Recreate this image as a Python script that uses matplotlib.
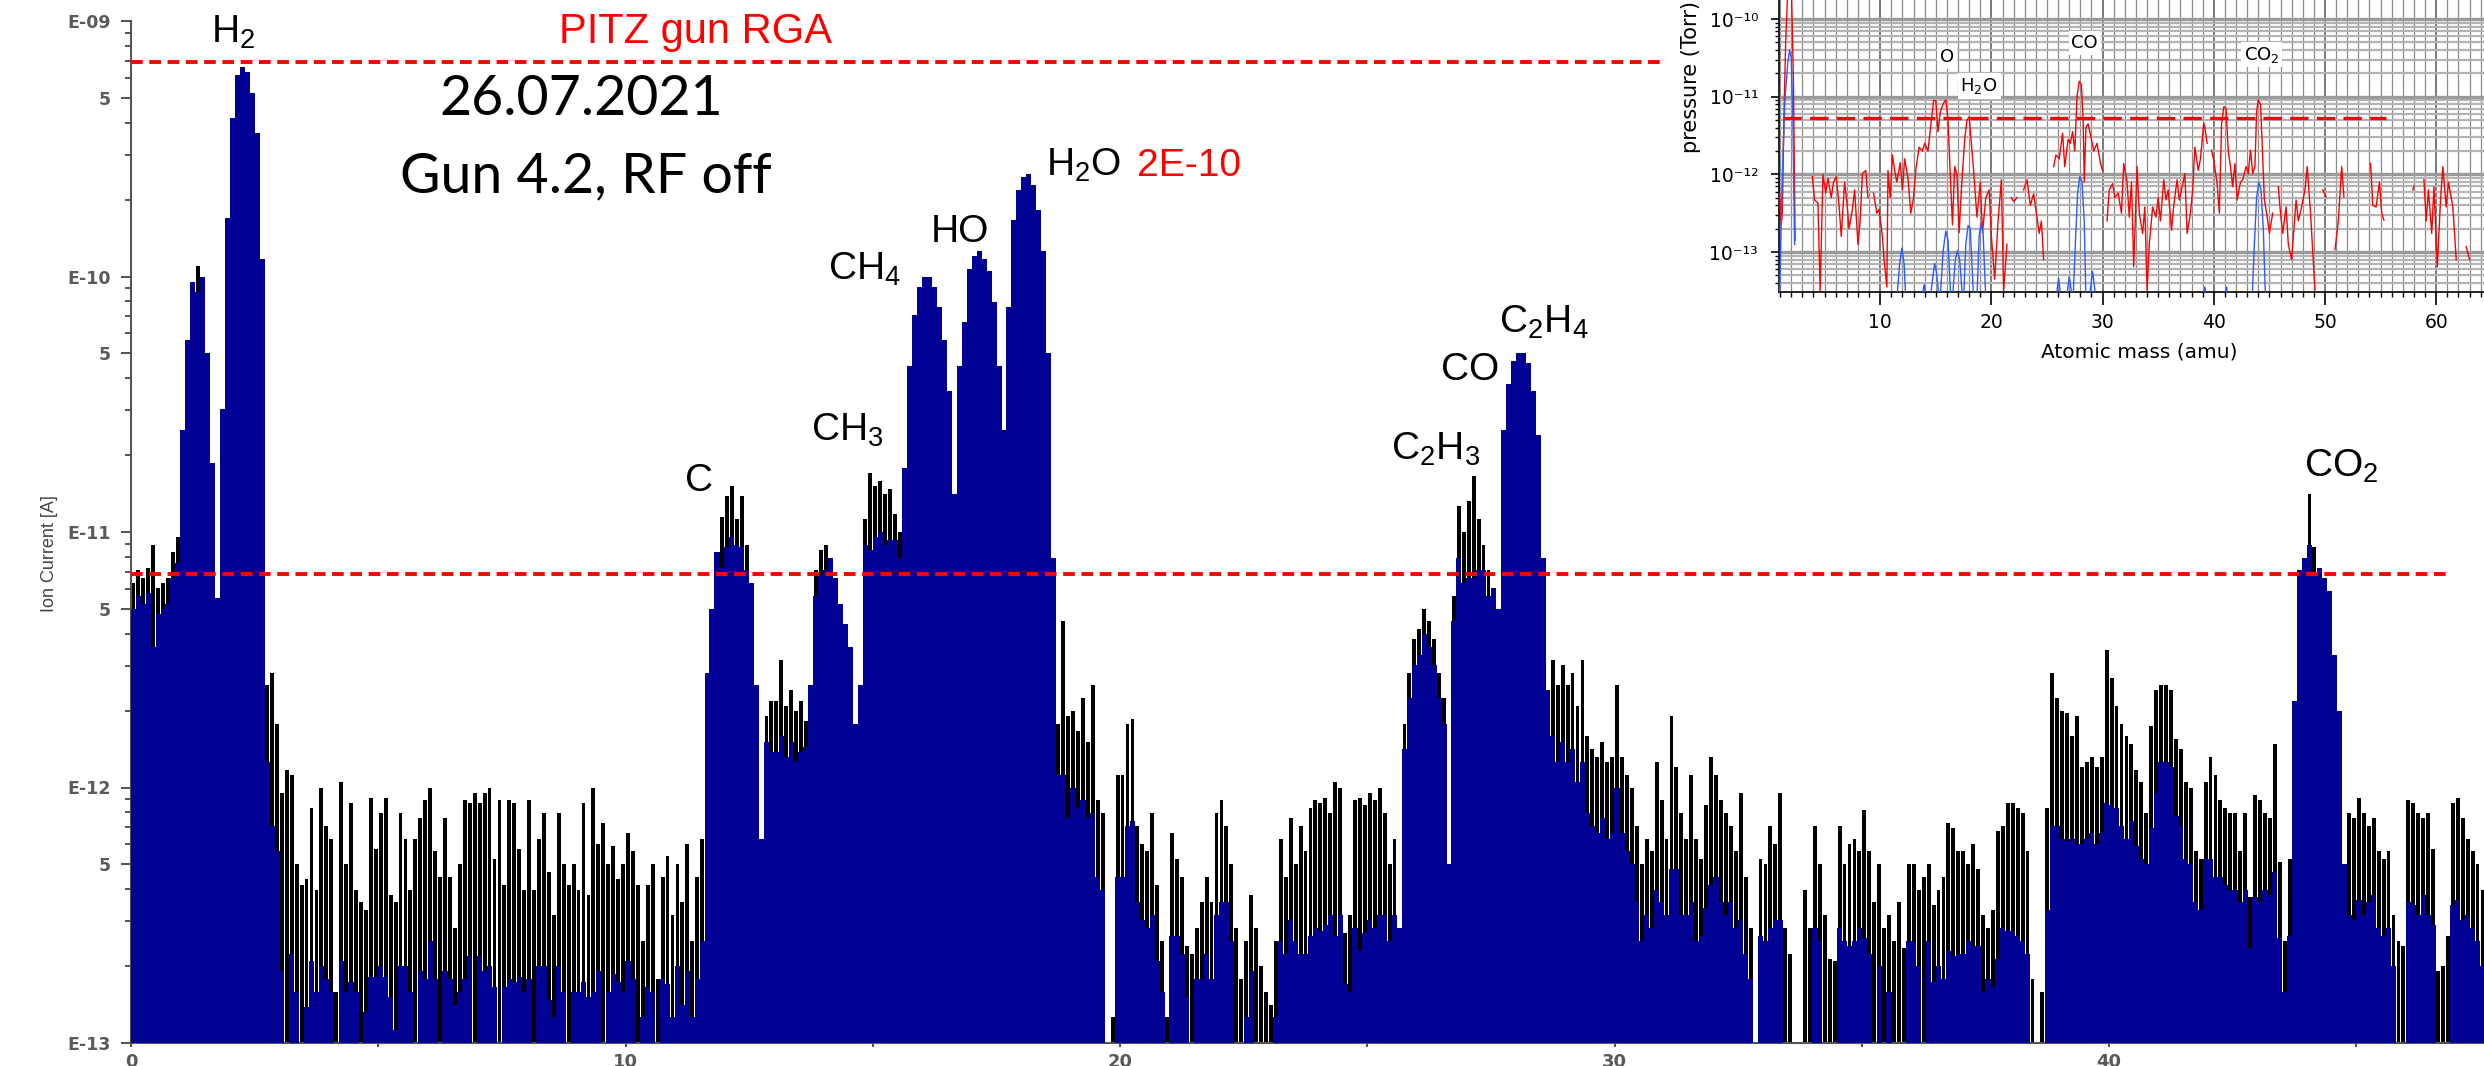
import numpy as np
import matplotlib
matplotlib.use('Agg')
import matplotlib.pyplot as plt
from matplotlib import font_manager
from matplotlib.ticker import MultipleLocator, NullFormatter, FixedLocator

# ---------------- main RGA spectrum (log10 of ion current [A]) ----------------
# one row per amu, 10 bins of 0.1 amu each ; top = highest value in the bin
ion_top = [
    [-11.20, -11.15, -11.18, -11.14, -11.05, -11.22, -11.20, -11.18, -11.08, -11.02],
    [-10.60, -10.25, -10.02, -9.96, -10.00, -10.30, -10.73, -11.26, -10.52, -9.77],
    [-9.38, -9.21, -9.18, -9.20, -9.28, -9.44, -9.93, -11.60, -11.55, -11.75],
    [-12.02, -11.93, -11.95, -12.30, -12.38, -12.36, -12.08, -12.40, -12.00, -12.15],
    [-12.20, -12.80, -11.98, -12.30, -12.06, -12.40, -12.45, -12.48, -12.04, -12.24],
    [-12.10, -12.04, -12.42, -12.45, -12.10, -12.20, -12.40, -12.20, -12.12, -12.05],
    [-12.00, -12.25, -12.35, -12.12, -12.35, -12.55, -12.30, -12.05, -12.06, -12.02],
    [-12.06, -12.02, -12.00, -12.28, -12.05, -12.38, -12.05, -12.06, -12.24, -12.40],
    [-12.05, -12.40, -12.20, -12.10, -12.33, -12.50, -12.10, -12.30, -12.38, -12.30],
    [-12.40, -12.06, -12.42, -12.00, -12.22, -12.14, -12.30, -12.23, -12.36, -12.30],
    [-12.18, -12.25, -12.38, -12.60, -12.38, -12.30, -12.75, -12.35, -12.27, -12.50],
    [-12.30, -12.45, -12.22, -12.60, -12.35, -12.20, -11.55, -11.30, -11.08, -10.94],
    [-10.86, -10.82, -10.95, -10.86, -11.05, -11.20, -11.60, -12.20, -11.72, -11.66],
    [-11.66, -11.50, -11.68, -11.62, -11.70, -11.66, -11.74, -11.60, -11.15, -11.07],
    [-11.05, -11.10, -11.18, -11.28, -11.36, -11.45, -11.75, -11.60, -10.95, -10.77],
    [-10.82, -10.80, -10.85, -10.83, -10.93, -11.00, -10.75, -10.35, -10.15, -10.04],
    [-10.00, -10.00, -10.04, -10.12, -10.25, -10.45, -10.85, -10.35, -10.18, -9.97],
    [-9.92, -9.90, -9.93, -9.98, -10.10, -10.35, -10.60, -10.12, -9.78, -9.66],
    [-9.61, -9.60, -9.64, -9.74, -9.90, -10.30, -11.10, -11.75, -11.35, -11.72],
    [-11.70, -11.78, -11.65, -11.82, -11.60, -12.05, -12.10, -14.00, -12.90, -11.95],
    [-11.95, -11.75, -11.73, -12.15, -12.22, -12.25, -12.10, -12.38, -12.60, -12.90],
    [-12.18, -12.28, -12.35, -12.62, -12.65, -12.55, -12.45, -12.35, -12.45, -12.10],
    [-12.05, -12.15, -12.30, -12.55, -12.75, -12.60, -12.42, -12.55, -12.70, -12.80],
    [-12.85, -12.60, -12.20, -12.35, -12.12, -12.30, -12.15, -12.25, -12.08, -12.05],
    [-12.06, -12.04, -12.10, -11.98, -12.00, -12.57, -12.50, -12.05, -12.04, -12.07],
    [-12.02, -12.05, -12.00, -12.10, -12.30, -12.20, -12.55, -11.75, -11.55, -11.42],
    [-11.38, -11.30, -11.35, -11.42, -11.55, -11.65, -12.30, -11.25, -10.90, -11.00],
    [-10.88, -10.78, -10.95, -11.05, -11.15, -11.22, -11.30, -10.60, -10.42, -10.33],
    [-10.30, -10.30, -10.34, -10.45, -10.62, -11.10, -11.62, -11.50, -11.60, -11.52],
    [-11.60, -11.55, -11.68, -11.50, -11.80, -11.85, -11.88, -11.82, -11.90, -11.88],
    [-11.60, -11.88, -11.95, -12.00, -12.15, -12.30, -12.20, -12.25, -11.90, -12.05],
    [-12.20, -11.72, -11.92, -12.10, -12.20, -11.95, -12.20, -12.28, -12.07, -11.88],
    [-11.95, -12.05, -12.10, -12.15, -12.25, -12.02, -12.35, -12.55, -14.00, -12.28],
    [-12.30, -12.15, -12.22, -12.02, -12.55, -12.65, -14.00, -14.00, -12.40, -12.55],
    [-12.15, -12.30, -12.50, -12.67, -12.68, -12.15, -12.30, -12.22, -12.20, -12.25],
    [-12.09, -12.25, -12.45, -12.30, -12.55, -12.50, -12.60, -12.45, -12.63, -12.30],
    [-12.30, -12.40, -12.35, -12.30, -12.46, -12.40, -12.35, -12.14, -12.16, -12.25],
    [-12.25, -12.30, -12.22, -12.32, -12.50, -12.55, -12.48, -12.17, -12.15, -12.06],
    [-12.06, -12.08, -12.10, -12.25, -12.75, -14.00, -12.80, -12.08, -11.55, -11.65],
    [-11.70, -11.71, -11.80, -11.72, -11.92, -11.90, -11.88, -11.92, -11.88, -11.46],
    [-11.57, -11.68, -11.75, -11.80, -11.83, -11.93, -11.98, -12.10, -11.76, -11.62],
    [-11.60, -11.60, -11.62, -11.81, -11.85, -11.98, -12.00, -12.25, -12.28, -11.98],
    [-11.88, -11.95, -12.05, -12.08, -12.10, -12.10, -12.25, -12.10, -12.43, -12.03],
    [-12.05, -12.10, -12.12, -11.83, -12.29, -12.60, -12.28, -11.66, -11.15, -11.10],
    [-10.85, -11.06, -11.14, -11.18, -11.23, -11.48, -11.70, -12.30, -12.10, -12.12],
    [-12.04, -12.10, -12.15, -12.12, -12.25, -12.28, -12.25, -12.50, -12.60, -12.62],
    [-12.05, -12.06, -12.10, -12.12, -12.10, -12.24, -12.72, -12.70, -12.58, -12.06],
    [-12.04, -12.12, -12.20, -12.25, -12.30, -12.40],
]
# black "hair" above the navy fill, tenths of a decade (9 = no navy at all)
ion_hair = [
    [1, 1, 1, 1, 4, 1, 1, 1, 1, 1],
    [0, 0, 0, 1, 0, 0, 0, 0, 0, 0],
    [0, 0, 0, 0, 0, 0, 0, 3, 6, 5],
    [7, 9, 7, 5, 9, 5, 6, 4, 7, 6],
    [6, 3, 7, 5, 7, 4, 9, 4, 7, 5],
    [6, 7, 4, 5, 6, 5, 4, 9, 6, 7],
    [6, 5, 9, 6, 4, 3, 5, 7, 6, 9],
    [6, 7, 7, 5, 9, 4, 7, 7, 5, 4],
    [7, 9, 5, 6, 5, 4, 6, 5, 9, 5],
    [4, 7, 4, 8, 5, 9, 5, 5, 4, 5],
    [5, 5, 9, 3, 4, 5, 9, 4, 5, 4],
    [4, 4, 5, 3, 4, 4, 0, 0, 0, 2],
    [2, 2, 1, 2, 1, 0, 0, 0, 1, 2],
    [2, 3, 2, 2, 2, 2, 1, 0, 1, 1],
    [1, 0, 0, 0, 0, 0, 0, 0, 1, 3],
    [2, 2, 2, 2, 1, 1, 0, 0, 0, 0],
    [0, 0, 0, 0, 0, 0, 0, 0, 0, 0],
    [0, 0, 0, 0, 0, 0, 0, 0, 0, 0],
    [0, 0, 0, 0, 0, 0, 0, 2, 6, 4],
    [3, 3, 4, 3, 5, 3, 3, 0, 9, 4],
    [4, 4, 4, 3, 3, 3, 4, 3, 2, 9],
    [4, 3, 3, 2, 9, 2, 3, 3, 3, 4],
    [4, 3, 3, 9, 9, 3, 3, 9, 3, 9],
    [9, 3, 4, 3, 4, 3, 5, 4, 5, 5],
    [5, 5, 4, 6, 5, 2, 3, 5, 6, 5],
    [5, 5, 5, 4, 3, 3, 0, 1, 1, 1],
    [1, 1, 1, 1, 1, 1, 0, 1, 2, 2],
    [3, 4, 2, 1, 1, 0, 0, 0, 0, 0],
    [0, 0, 0, 0, 0, 0, 0, 3, 3, 3],
    [3, 3, 3, 4, 3, 3, 3, 3, 3, 3],
    [4, 3, 3, 3, 3, 3, 3, 3, 5, 4],
    [3, 6, 4, 4, 3, 5, 4, 3, 4, 5],
    [4, 4, 4, 3, 3, 5, 3, 2, 0, 3],
    [3, 4, 3, 5, 9, 9, 0, 0, 9, 9],
    [4, 3, 9, 9, 9, 4, 3, 4, 4, 3],
    [5, 4, 9, 4, 9, 3, 9, 9, 9, 3],
    [3, 3, 9, 3, 3, 3, 4, 5, 5, 4],
    [4, 3, 4, 3, 3, 2, 3, 5, 4, 5],
    [5, 5, 5, 4, 9, 0, 9, 4, 6, 5],
    [5, 5, 4, 5, 3, 3, 3, 3, 3, 6],
    [5, 4, 4, 4, 3, 3, 3, 2, 4, 4],
    [3, 3, 3, 3, 3, 3, 3, 2, 2, 3],
    [4, 4, 3, 3, 3, 3, 2, 3, 2, 4],
    [4, 3, 3, 5, 3, 2, 3, 0, 0, 0],
    [2, 1, 0, 0, 0, 0, 0, 0, 4, 4],
    [4, 4, 3, 3, 3, 3, 3, 2, 9, 9],
    [4, 4, 4, 3, 4, 3, 9, 9, 9, 4],
    [4, 4, 3, 3, 3, 3],
]
bin_width = 0.1

# reference levels (log10 A)
level_high = -9.16
level_low = -11.164

# peak labels: (text, amu, log10 baseline)
peak_labels = [
    ('H$_2$', 1.62, -9.086),
    ('C', 11.20, -10.84),
    ('CH$_3$', 13.75, -10.644),
    ('CH$_4$', 14.10, -10.014),
    ('HO', 16.18, -9.865),
    ('H$_2$O', 18.50, -9.607),
    ('C$_2$H$_3$', 25.48, -10.718),
    ('CO', 26.49, -10.405),
    ('C$_2$H$_4$', 27.66, -10.221),
    ('CO$_2$', 43.94, -10.785),
]
y_major_labels = ['E-13', 'E-12', 'E-11', 'E-10', 'E-09']
x_major = [0, 10, 20, 30, 40]

# ---------------- inset (pressure in Torr, log10) ----------------
red_points = [
    (0.95, -12.24), (1.1, -12.65), (1.2, -12.5), (1.35, -11.2), (1.5, -10.3), (1.7, -9.6), (2.0, -9.5),
    (2.2, -10.8), (2.35, -12.85), None,
    (3.9, -12.03), (4.1, -12.33), (4.4, -12.37), (4.6, -13.5), (4.85, -12.0), (5.1, -12.24), (5.3, -12.05),
    (5.6, -12.3), (5.8, -12.1), (6.05, -12.03), (6.3, -12.4), (6.5, -12.8), (6.8, -12.1), (7.0, -12.35),
    (7.2, -12.7), (7.5, -12.45), (7.7, -12.2), (8.0, -12.9), (8.2, -12.6), (8.4, -11.99), (8.7, -11.95),
    (8.9, -12.3), None,
    (9.4, -12.24), (9.7, -12.5), (9.9, -12.45), (10.2, -12.8), (10.35, -13.1), (10.6, -13.45), (10.7, -11.95),
    (10.9, -12.3), (11.1, -11.75), (11.3, -11.95), (11.5, -12.1), (11.8, -11.85), (12.0, -12.2), (12.2, -11.8),
    (12.5, -12.05), (12.75, -12.5), (13.0, -12.3), (13.2, -11.94), (13.5, -11.65), (13.8, -11.7), (14.0, -11.6),
    (14.3, -11.7), (14.6, -11.3), (14.8, -11.05), (15.0, -11.05), (15.2, -11.45), (15.4, -11.2), (15.7, -11.08),
    (15.9, -11.04), (16.1, -11.3), (16.3, -12.0), (16.5, -12.65), (16.7, -11.9), (16.9, -12.0), (17.1, -12.75),
    (17.3, -12.2), (17.6, -11.55), (17.8, -11.3), (18.0, -11.26), (18.2, -11.6), (18.4, -11.95), (18.7, -12.55),
    (19.0, -12.1), (19.2, -12.75), (19.5, -12.3), (19.8, -12.2), (20.0, -12.8), (20.3, -13.35), (20.6, -12.6),
    (20.9, -12.07), (21.1, -13.5), (21.4, -12.9), None,
    (21.8, -12.3), (22.0, -12.35), (22.3, -12.3), None,
    (22.9, -12.2), (23.2, -12.07), (23.5, -12.4), (23.8, -12.25), (24.0, -12.45), (24.3, -12.76), (24.5, -12.6),
    (24.7, -13.1), None,
    (25.6, -11.9), (25.8, -11.75), (26.1, -11.8), (26.4, -11.47), (26.6, -11.9), (26.9, -11.55), (27.1, -11.6),
    (27.3, -11.45), (27.5, -11.7), (27.7, -11.0), (27.9, -10.8), (28.1, -10.85), (28.25, -11.3), (28.35, -12.1),
    (28.5, -11.4), (28.7, -11.35), (29.0, -11.55), (29.2, -11.7), (29.5, -11.6), (29.8, -11.85), (30.0, -11.95), None,
    (30.4, -12.6), (30.6, -12.2), (30.9, -12.12), (31.1, -12.3), (31.4, -12.24), (31.7, -12.5), (31.9, -11.86),
    (32.2, -12.1), (32.4, -12.55), (32.6, -12.1), (32.8, -13.19), (33.1, -11.9), (33.3, -12.5), (33.6, -12.76),
    (33.8, -12.42), (34.0, -13.49), (34.2, -12.9), (34.5, -12.42), (34.8, -12.55), (35.0, -12.3), (35.2, -12.6),
    (35.5, -12.07), (35.7, -12.33), (35.9, -12.2), (36.2, -12.72), (36.4, -12.4), (36.7, -12.07), (36.9, -12.33),
    (37.1, -12.2), (37.4, -11.99), (37.6, -12.76), (37.9, -12.5), (38.1, -12.2), (38.3, -11.65), (38.6, -11.95),
    (38.8, -11.8), (39.1, -11.34), (39.2, -11.4), (39.4, -11.6), None,
    (39.8, -11.69), (40.0, -11.82), (40.3, -12.12), (40.5, -12.5), (40.7, -11.35), (40.9, -11.13), (41.1, -11.15),
    (41.3, -11.7), (41.5, -11.9), (41.7, -12.16), (41.9, -11.86), (42.1, -12.33), (42.4, -12.1), (42.6, -12.07),
    (42.9, -11.9), (43.1, -11.99), (43.3, -11.69), (43.5, -11.99), (43.7, -11.9), (43.85, -11.2), (44.0, -11.04),
    (44.2, -11.1), (44.35, -11.6), (44.55, -12.33), (44.8, -12.55), (45.0, -12.76), (45.3, -12.5), None,
    (45.8, -12.16), (46.0, -12.5), (46.2, -12.76), (46.5, -12.42), (46.7, -12.9), (47.0, -13.1), (47.4, -12.33),
    (47.6, -12.6), (47.9, -12.42), (48.2, -12.2), (48.4, -11.9), (48.7, -12.5), (49.1, -13.49), None,
    (49.8, -12.2), (50.1, -12.29), None,
    (50.9, -12.97), (51.2, -12.6), (51.5, -11.9), (51.7, -12.29), None,
    (54.1, -11.86), (54.3, -12.4), (54.6, -12.42), (54.9, -12.1), (55.1, -12.5), (55.3, -12.59), None,
    (57.9, -12.2), (58.0, -12.15), None,
    (58.9, -12.07), (59.1, -12.6), (59.3, -12.2), (59.6, -12.76), (59.8, -12.16), (60.1, -13.19), (60.4, -12.3),
    (60.6, -11.9), (60.9, -12.42), (61.1, -12.1), (61.5, -12.42), (61.8, -13.1), None,
    (62.7, -12.93), (63.0, -13.1),
]
blue_points = [
    (0.95, -13.6), (1.2, -12.0), (1.45, -11.0), (1.7, -10.55), (1.85, -10.4), (2.0, -10.5), (2.15, -11.3), (2.3, -12.9), None,
    (11.5, -13.6), (11.75, -13.15), (11.95, -12.95), (12.15, -13.15), (12.3, -13.6), None,
    (13.75, -13.6), (13.95, -13.42), (14.15, -13.6), None,
    (14.5, -13.6), (14.75, -13.3), (14.9, -13.15), (15.05, -13.25), (15.3, -13.6), None,
    (15.4, -13.6), (15.65, -13.0), (15.9, -12.73), (16.1, -12.85), (16.35, -13.6), None,
    (16.5, -13.6), (16.75, -13.1), (16.95, -12.98), (17.15, -13.1), (17.4, -13.6), None,
    (17.5, -13.6), (17.7, -12.9), (17.9, -12.66), (18.1, -12.7), (18.4, -13.6), None,
    (18.7, -13.6), (18.9, -12.8), (19.06, -12.63), (19.25, -12.75), (19.5, -13.6), None,
    (25.8, -13.6), (26.05, -13.34), (26.25, -13.6), None,
    (26.75, -13.6), (27.0, -13.32), (27.3, -13.6), None,
    (27.35, -13.6), (27.55, -12.9), (27.75, -12.25), (27.95, -12.03), (28.15, -12.1), (28.35, -12.6), (28.5, -13.6), None,
    (28.8, -13.6), (29.1, -13.25), (29.4, -13.6), None,
    (39.05, -13.6), (39.2, -13.45), (39.35, -13.6), None,
    (41.0, -13.6), (41.15, -13.45), (41.3, -13.6), None,
    (43.45, -13.6), (43.65, -12.9), (43.85, -12.3), (44.05, -12.1), (44.25, -12.2), (44.45, -12.7), (44.65, -13.6),
]
inset_level = -11.27
inset_level_span = (1.3, 55.5)
inset_labels = [('O', 16.0, -10.49), ('H$_2$O', 18.9, -10.86), ('CO', 28.4, -10.31), ('CO$_2$', 44.3, -10.46)]
inset_y_labels = ['10\u207b\u00b9\u00b3', '10\u207b\u00b9\u00b2', '10\u207b\u00b9\u00b9', '10\u207b\u00b9\u2070']

# ---------------- fonts ----------------
avail = {f.name for f in font_manager.fontManager.ttflist}


def pick(*names):
    for nm in names:
        if nm in avail:
            return nm
    return 'DejaVu Sans'


ARIAL = pick('Liberation Sans', 'Arimo', 'DejaVu Sans')
CALIBRI = pick('Lato', 'Open Sans', 'DejaVu Sans')
plt.rcParams['font.family'] = [ARIAL, 'DejaVu Sans']
plt.rcParams['mathtext.default'] = 'regular'

W, H = 2484, 1066
fig = plt.figure(figsize=(W / 100, H / 100), dpi=100)


def fx(px):
    return px / W


def fy(py):
    return 1 - py / H


NAVY = '#000094'

# ---------------- main axes ----------------
ax = fig.add_axes([fx(131), fy(1043), fx(2484) - fx(131), fy(21) - fy(1043)])
ax.set_yscale('log')

top = np.array([v for row in ion_top for v in row])
hair = np.array([v for row in ion_hair for v in row])
mass = bin_width * (np.arange(len(top)) + 0.5)
floor_val = 1e-15
top_val = 10.0 ** top
navy_val = np.where(hair == 9, floor_val, 10.0 ** (top - hair / 10.0))

ax.bar(mass, top_val - floor_val, width=0.078, bottom=floor_val, color='black', linewidth=0, zorder=2)
ax.bar(mass, navy_val - floor_val, width=bin_width * 1.06, bottom=floor_val, color=NAVY, linewidth=0,
       zorder=3)

ax.set_xlim(0, 47.58)
ax.set_ylim(1e-13, 1e-9)

dash = (0, (3.0, 1.7))
ax.axhline(10 ** level_high, xmin=0, xmax=31.0 / 47.58, color='#ff0000', lw=2.8, ls=dash, zorder=5)
ax.axhline(10 ** level_low, xmin=0, xmax=46.94 / 47.58, color='#ff0000', lw=2.8, ls=dash, zorder=5)

for txt, xm, yl in peak_labels:
    ax.text(xm, 10 ** yl, txt, fontsize=28, ha='left', va='baseline', color='black', zorder=6)
ax.text(20.34, 10 ** -9.607, '2E-10', fontsize=28, ha='left', va='baseline', color='#ff0000', zorder=6)
ax.text(8.66, 10 ** -9.086, 'PITZ gun RGA', fontsize=30, ha='left', va='baseline', color='#ff0000', zorder=6)
ax.text(6.23, 10 ** -9.366, '26.07.2021', fontsize=40, ha='left', va='baseline', family=CALIBRI, zorder=6)
ax.text(5.44, 10 ** -9.669, 'Gun 4.2, RF off', fontsize=40, ha='left', va='baseline', family=CALIBRI, zorder=6)

# y ticks
dec = [10.0 ** e for e in range(-13, -8)]
fives = [5 * 10.0 ** e for e in range(-13, -9)]
ax.yaxis.set_major_locator(FixedLocator(dec + fives))
ax.set_yticklabels(y_major_labels + ['5'] * len(fives))
ax.yaxis.set_minor_locator(FixedLocator([k * 10.0 ** e for e in range(-13, -9) for k in (2, 3, 4, 6, 7, 8, 9)]))
ax.yaxis.set_minor_formatter(NullFormatter())
ax.tick_params(axis='y', which='major', length=7.5, width=1.3, direction='out', pad=7,
               labelsize=12.5, labelcolor='#5a5a5a', color='#444444')
ax.tick_params(axis='y', which='minor', length=4.5, width=1.3, direction='out', color='#444444')
for lab in ax.get_yticklabels():
    lab.set_family('DejaVu Sans')
    lab.set_fontweight('bold')
ax.set_xticks(x_major)
ax.set_xticks([5, 15, 25, 35, 45], minor=True)
ax.tick_params(axis='x', which='both', length=3, width=1.3, direction='out', pad=4,
               labelsize=13, labelcolor='#5a5a5a', color='#444444')
for lab in ax.get_xticklabels():
    lab.set_family('DejaVu Sans')
    lab.set_fontweight('bold')
for s in ('top', 'right'):
    ax.spines[s].set_visible(False)
for s in ('left', 'bottom'):
    ax.spines[s].set_color('#555555')
    ax.spines[s].set_linewidth(1.5)
fig.text(fx(50), fy(554), 'Ion Current [A]', rotation=90, ha='center', va='center', fontsize=13, color='#444444')

# ---------------- inset ----------------
ax_in = fig.add_axes([fx(1779), fy(292), fx(2484) - fx(1779), fy(0) - fy(292)])
ax_in.set_zorder(5)
ax_in.set_facecolor('white')
ax_in.set_yscale('log')
ax_in.set_xlim(0.9, 64.3)
ax_in.set_ylim(10 ** -13.515, 10 ** -9.755)


def split(points):
    xs, ys = [], []
    for p in points:
        if p is None:
            xs.append(np.nan)
            ys.append(np.nan)
        else:
            xs.append(p[0])
            ys.append(10.0 ** p[1])
    return xs, ys


rx, ry = split(red_points)
bx, by = split(blue_points)
ax_in.plot(rx, ry, color='#ff0000', lw=1.0, zorder=3)
ax_in.plot(bx, by, color='#2a5cff', lw=1.0, zorder=3)
ax_in.hlines(10 ** inset_level, inset_level_span[0], inset_level_span[1], colors='#ff0000', lw=2.4,
             linestyles=(0, (5.5, 2.5)), zorder=4)

ax_in.xaxis.set_major_locator(MultipleLocator(10))
ax_in.xaxis.set_minor_locator(MultipleLocator(1))
ax_in.set_yticks([1e-13, 1e-12, 1e-11, 1e-10])
ax_in.set_yticklabels(inset_y_labels)
ax_in.yaxis.set_minor_locator(FixedLocator([k * 10.0 ** e for e in range(-14, -9) for k in range(2, 10)]))
ax_in.yaxis.set_minor_formatter(NullFormatter())
ax_in.set_axisbelow(True)
ax_in.xaxis.grid(True, which='major', color='#707070', lw=1.3)
ax_in.xaxis.grid(True, which='minor', color='#8c8c8c', lw=0.9)
ax_in.yaxis.grid(True, which='major', color='#9a9a9a', lw=2.4)
ax_in.yaxis.grid(True, which='minor', color='#b4b4b4', lw=1.6)
ax_in.tick_params(axis='x', which='major', length=9, width=1.2, pad=6, labelsize=13.5, direction='out')
ax_in.tick_params(axis='x', which='minor', length=3.5, width=1.0, direction='out')
ax_in.tick_params(axis='y', which='major', length=6, width=1.2, pad=9, labelsize=13.5, direction='out')
ax_in.tick_params(axis='y', which='minor', length=3, width=1.0, direction='out')
for lab in ax_in.get_xticklabels() + ax_in.get_yticklabels():
    lab.set_family('DejaVu Sans')
for s in ('top', 'right'):
    ax_in.spines[s].set_visible(False)
for s in ('left', 'bottom'):
    ax_in.spines[s].set_linewidth(1.2)
for txt, xm, yl in inset_labels:
    ax_in.text(xm, 10 ** yl, txt, fontsize=13, ha='center', va='center', family='DejaVu Sans', zorder=5,
               bbox=dict(boxstyle='square,pad=0.15', fc='white', ec='none'))

fig.text(fx(1691), fy(153), 'pressure (Torr)', rotation=90, ha='center', va='bottom', fontsize=15,
         family='DejaVu Sans', zorder=10)
fig.text(fx(2139), fy(358), 'Atomic mass (amu)', ha='center', va='baseline', fontsize=14.5,
         family='DejaVu Sans', zorder=10)

fig.savefig('out.png', dpi=100, facecolor='white')
